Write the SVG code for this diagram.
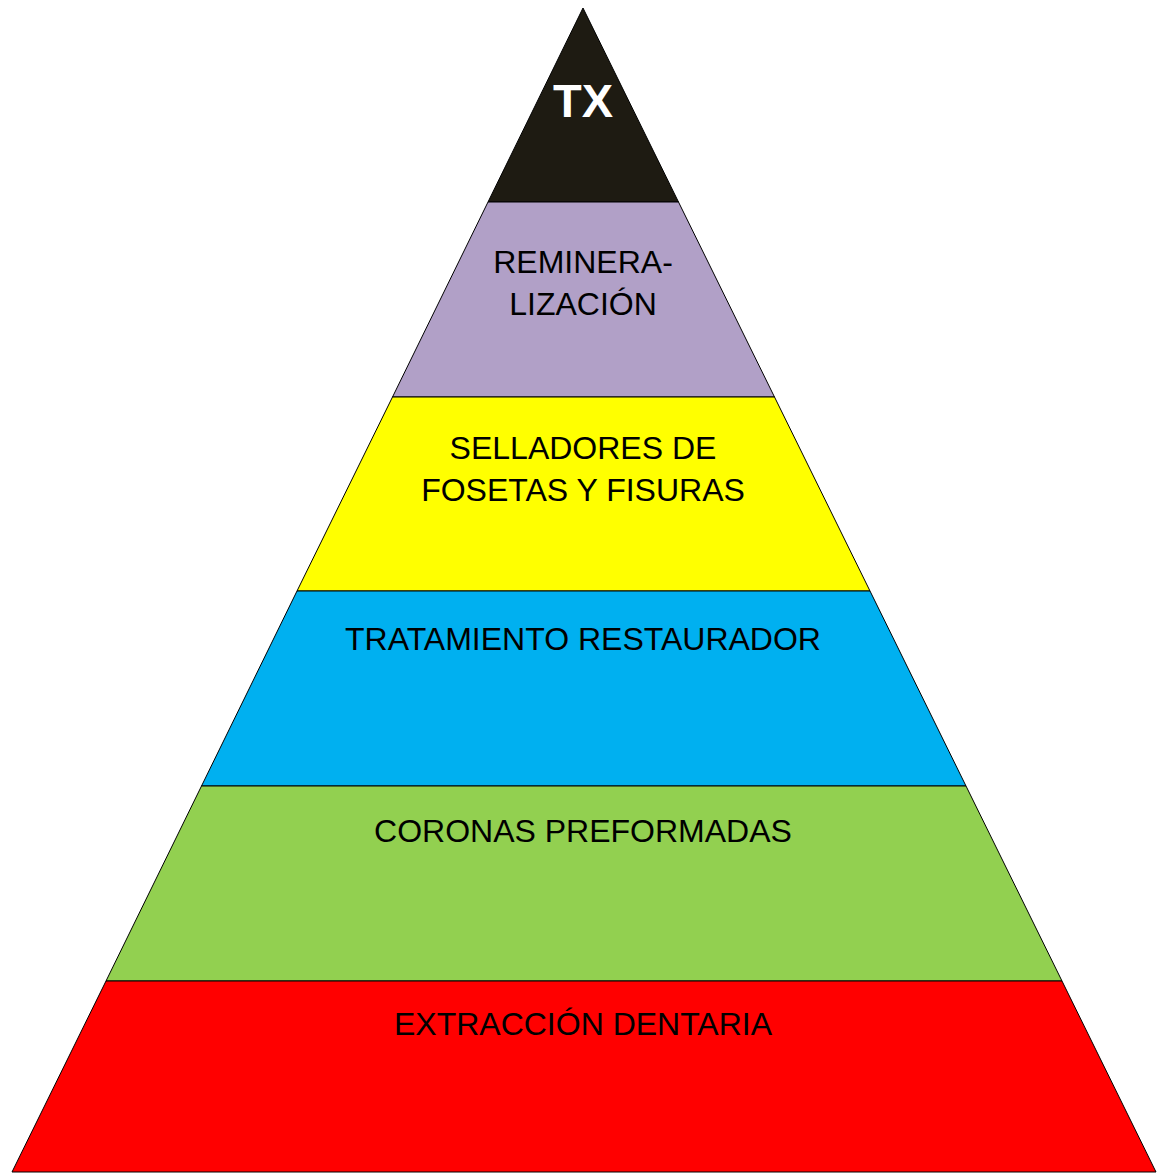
<svg xmlns="http://www.w3.org/2000/svg" width="1159" height="1173" viewBox="0 0 1159 1173">
<style>
.band{stroke:#000;stroke-width:1;stroke-linejoin:miter}
.lbl{font-family:"Liberation Sans",Arial,sans-serif;font-size:32px;fill:#000;text-anchor:middle}
.top{font-family:"Liberation Sans",Arial,sans-serif;font-size:47px;font-weight:bold;fill:#fff;text-anchor:middle}
</style>
<rect width="1159" height="1173" fill="#fff"/>
<g id="tx">
<polygon class="band" fill="#1e1b12" points="583,8 678.5,202 488,202"/>
<text class="top" x="583" y="117">TX</text>
</g>
<g id="remineralizacion">
<polygon class="band" fill="#b1a0c7" points="488,202 678.5,202 774.5,397 392.5,397"/>
<text class="lbl" x="583" y="273">REMINERA-</text>
<text class="lbl" x="583" y="315">LIZACIÓN</text>
</g>
<g id="selladores">
<polygon class="band" fill="#ffff00" points="392.5,397 774.5,397 870,591 297,591"/>
<text class="lbl" x="583" y="459">SELLADORES DE</text>
<text class="lbl" x="583" y="501">FOSETAS Y FISURAS</text>
</g>
<g id="tratamiento">
<polygon class="band" fill="#00b0f0" points="297,591 870,591 966,786 201.5,786"/>
<text class="lbl" x="583" y="650">TRATAMIENTO RESTAURADOR</text>
</g>
<g id="coronas">
<polygon class="band" fill="#92d050" points="201.5,786 966,786 1062,981 106,981"/>
<text class="lbl" x="583" y="842">CORONAS PREFORMADAS</text>
</g>
<g id="extraccion">
<polygon class="band" fill="#ff0000" points="106,981 1062,981 1156,1172 12,1172"/>
<text class="lbl" x="583" y="1035">EXTRACCIÓN DENTARIA</text>
</g>
<g id="connectors"></g>
</svg>
